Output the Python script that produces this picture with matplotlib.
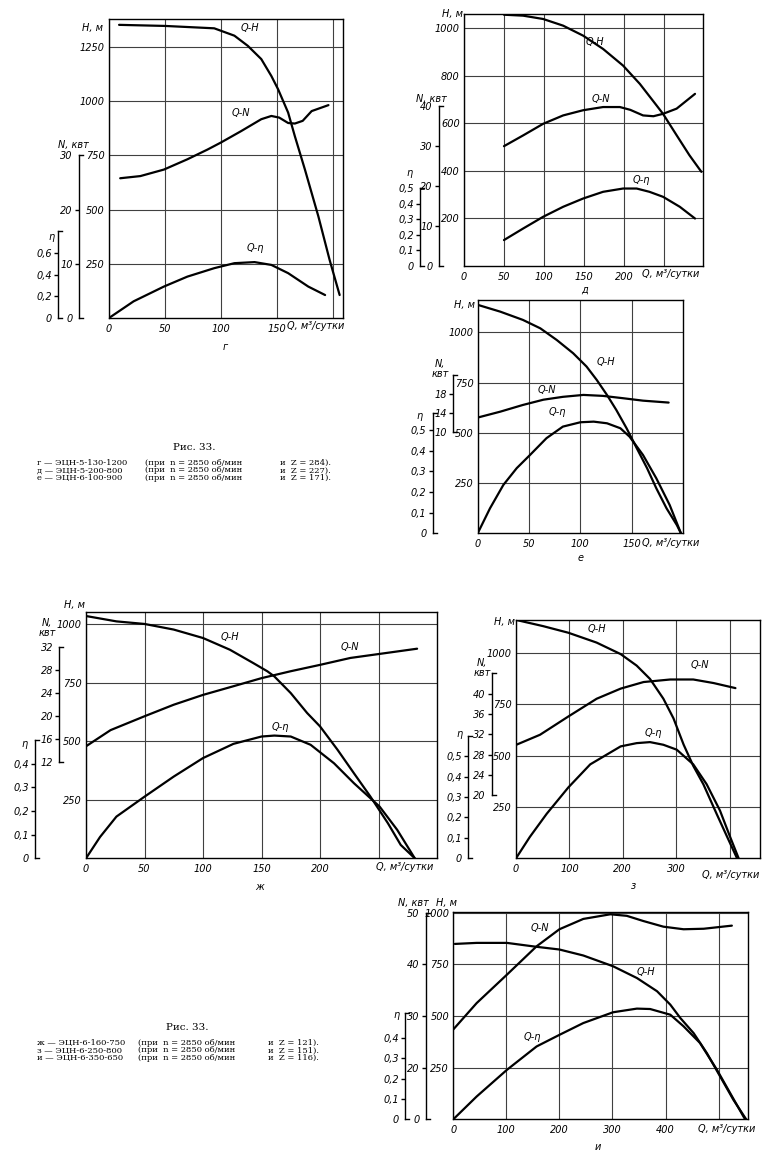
import matplotlib
matplotlib.use("Agg")
import matplotlib.pyplot as plt
from matplotlib.transforms import blended_transform_factory
from matplotlib.ticker import FixedLocator, FixedFormatter

plt.rcParams['font.family'] = ['DejaVu Sans']
plt.rcParams['font.style'] = 'italic'

W, HH = 779, 1163

# ---- г : ЭЦН-5-130-1200
G_QH_Q = [9, 50, 94, 112, 124, 136, 145, 151, 160, 166, 175, 187, 197, 206]
G_QH_H = [1353, 1348, 1337, 1303, 1256, 1195, 1117, 1056, 948, 839, 685, 469, 269, 106]
G_QN_Q = [10, 28, 49, 70, 88, 100, 118, 136, 145, 152, 160, 166, 173, 181, 196]
G_QN_N = [25.8, 26.2, 27.4, 29.3, 31.1, 32.4, 34.5, 36.7, 37.3, 37.0, 36.0, 35.9, 36.4, 38.2, 39.3]
G_QE_Q = [0, 22, 49, 70, 94, 112, 130, 145, 160, 178, 193]
G_QE_E = [0, 0.154, 0.29, 0.382, 0.46, 0.506, 0.516, 0.49, 0.414, 0.29, 0.212]

# ---- д : ЭЦН-5-200-800
D_QH_Q = [50, 74, 99, 124, 149, 174, 199, 220, 241, 249, 266, 282, 297]
D_QH_H = [1057, 1053, 1039, 1011, 969, 913, 843, 766, 675, 640, 550, 466, 396]
D_QN_Q = [50, 74, 99, 124, 149, 174, 195, 208, 224, 237, 249, 266, 289]
D_QN_N = [30.0, 32.7, 35.6, 37.7, 39.0, 39.8, 39.8, 39.1, 37.7, 37.5, 38.1, 39.4, 43.1]
D_QE_Q = [50, 74, 99, 124, 149, 174, 199, 216, 232, 249, 270, 289]
D_QE_E = [0.166, 0.24, 0.315, 0.379, 0.432, 0.475, 0.496, 0.496, 0.475, 0.443, 0.379, 0.304]

# ---- е : ЭЦН-6-100-900
E_QH_Q = [0.6, 22, 44, 61, 77, 93, 106, 116, 126, 135, 145, 155, 165, 174, 184, 194, 198]
E_QH_H = [1136, 1103, 1062, 1020, 962, 896, 830, 763, 688, 614, 523, 423, 324, 224, 124, 41, 0]
E_QN_Q = [0.6, 22, 44, 64, 83, 103, 122, 142, 161, 186]
E_QN_N = [13.1, 14.3, 15.7, 16.8, 17.4, 17.8, 17.6, 17.1, 16.6, 16.2]
E_QE_Q = [0, 12, 25, 38, 51, 67, 83, 100, 113, 126, 139, 148, 161, 174, 187, 198]
E_QE_E = [0, 0.121, 0.234, 0.315, 0.379, 0.46, 0.516, 0.537, 0.54, 0.532, 0.508, 0.467, 0.379, 0.266, 0.137, 0]

# ---- ж : ЭЦН-6-160-750
J_QH_Q = [1, 26, 50, 75, 100, 123, 143, 155, 161, 175, 189, 200, 215, 229, 243, 258, 269, 281]
J_QH_H = [1033, 1011, 1000, 976, 940, 890, 833, 798, 776, 705, 620, 563, 463, 363, 264, 150, 57, 0]
J_QN_Q = [0, 21, 50, 75, 100, 126, 150, 175, 200, 226, 251, 283]
J_QN_N = [14.8, 17.6, 20.0, 22.0, 23.7, 25.2, 26.6, 27.8, 28.9, 30.1, 30.8, 31.7]
J_QE_Q = [0, 12, 26, 50, 75, 100, 126, 150, 161, 175, 192, 212, 229, 251, 266, 281]
J_QE_E = [0, 0.09, 0.176, 0.26, 0.345, 0.423, 0.483, 0.514, 0.518, 0.514, 0.479, 0.401, 0.317, 0.218, 0.12, 0]

# ---- з : ЭЦН-6-250-800
Z_QH_Q = [2.5, 51, 98, 151, 196, 226, 251, 276, 295, 314, 332, 351, 376, 395, 414]
Z_QH_H = [1159, 1130, 1098, 1050, 994, 938, 873, 777, 681, 553, 450, 360, 215, 107, 0]
Z_QN_Q = [0, 45, 98, 151, 196, 239, 289, 332, 370, 411]
Z_QN_N = [29.9, 31.9, 35.5, 39.0, 41.0, 42.3, 42.8, 42.8, 42.1, 41.1]
Z_QE_Q = [0, 26, 57.5, 98, 139, 196, 226, 251, 276, 301, 332, 357, 382, 401, 417]
Z_QE_E = [0, 0.105, 0.218, 0.347, 0.46, 0.548, 0.564, 0.569, 0.556, 0.532, 0.46, 0.363, 0.234, 0.105, 0]

# ---- и : ЭЦН-6-350-650
I_QH_Q = [3, 44, 101, 157, 200, 245, 301, 346, 384, 409, 428, 453, 478, 503, 528, 552]
I_QH_H = [849, 854, 854, 835, 822, 793, 741, 684, 620, 555, 490, 417, 320, 207, 94, 0]
I_QN_Q = [0, 44, 101, 157, 200, 245, 296, 327, 358, 396, 434, 472, 525]
I_QN_N = [27.4, 32.5, 38.0, 43.5, 46.8, 48.8, 49.7, 49.4, 48.4, 47.3, 46.8, 46.9, 47.5]
I_QE_Q = [0, 44, 101, 157, 200, 245, 301, 346, 371, 409, 434, 465, 497, 522, 547, 550]
I_QE_E = [0, 0.112, 0.243, 0.358, 0.415, 0.473, 0.526, 0.544, 0.542, 0.514, 0.457, 0.375, 0.243, 0.128, 0.013, 0]

CAPTION_1 = [
    ("г — ЭЦН-5-130-1200", "(при  n = 2850 об/мин", "и  Z = 284)."),
    ("д — ЭЦН-5-200-800", "(при  n = 2850 об/мин", "и  Z = 227)."),
    ("е — ЭЦН-6-100-900", "(при  n = 2850 об/мин", "и  Z = 171)."),
]
CAPTION_2 = [
    ("ж — ЭЦН-6-160-750", "(при  n = 2850 об/мин", "и  Z = 121)."),
    ("з — ЭЦН-6-250-800", "(при  n = 2850 об/мин", "и  Z = 151)."),
    ("и — ЭЦН-6-350-650", "(при  n = 2850 об/мин", "и  Z = 116)."),
]

ETA = ['0,1', '0,2', '0,3', '0,4', '0,5']

panels = [
    dict(box=(109, 19, 343, 318), qlim=(0, 209), hlim=(0, 1380),
         qticks=[0, 50, 100, 150, 200], qlabels=['0', '50', '100', '150', ''],
         hticks=[250, 500, 750, 1000, 1250],
         n=dict(bar=79, map=(25, 0), lo=0, hi=30, major=[10, 20], minor=[0, 30], mlab=['0', '30']),
         e=dict(bar=58, map=(500, 0), lo=0, hi=0.8, major=[0.2, 0.4, 0.6], labels=['0,2', '0,4', '0,6'],
                minor=[0], mlab=['0']),
         curves=[(G_QH_Q, G_QH_H, 'h'), (G_QN_Q, G_QN_N, 'n'), (G_QE_Q, G_QE_E, 'e')],
         texts=[(93, 28, 'H, м'), (73, 145, 'N, квт'), (52, 237, 'η'),
                (250, 28, 'Q-H'), (241, 113, 'Q-N'), (255, 248, 'Q-η'),
                (316, 326, 'Q, м³/сутки'), (225, 347, 'г')]),
    dict(box=(464, 14, 703, 266), qlim=(0, 299), hlim=(0, 1060),
         qticks=[0, 50, 100, 150, 200, 250], qlabels=['0', '50', '100', '150', '200', ''],
         hticks=[200, 400, 600, 800, 1000],
         n=dict(bar=439, map=(16.8, 0), lo=0, hi=40, major=[10, 20, 30], minor=[0, 40], mlab=['0', '40']),
         e=dict(bar=420, map=(657, 0), lo=0, hi=0.5, major=[0.1, 0.2, 0.3, 0.4], labels=ETA[:4],
                minor=[0, 0.5], mlab=['0', '0,5']),
         curves=[(D_QH_Q, D_QH_H, 'h'), (D_QN_Q, D_QN_N, 'n'), (D_QE_Q, D_QE_E, 'e')],
         texts=[(453, 14, 'H, м'), (431, 99, 'N, квт'), (410, 173, 'η'),
                (595, 42, 'Q-H'), (601, 99, 'Q-N'), (641, 180, 'Q-η'),
                (671, 274, 'Q, м³/сутки'), (585, 290, 'д')]),
    dict(box=(477.7, 300, 683, 533.3), qlim=(0, 200), hlim=(0, 1161),
         qticks=[0, 50, 100, 150], qlabels=['0', '50', '100', '150'],
         hticks=[250, 500, 750, 1000],
         n=dict(bar=453, map=(23.8, 265), lo=10, hi=22, major=[14, 18], minor=[10], mlab=['10']),
         e=dict(bar=432.7, map=(1029, 0), lo=0, hi=0.58, major=[0.1, 0.2, 0.3, 0.4, 0.5], labels=ETA,
                minor=[0], mlab=['0']),
         curves=[(E_QH_Q, E_QH_H, 'h'), (E_QN_Q, E_QN_N, 'n'), (E_QE_Q, E_QE_E, 'e')],
         texts=[(464, 305, 'H, м'), (440, 369, 'N,\nквт'), (420, 416, 'η'),
                (606, 362, 'Q-H'), (547, 390, 'Q-N'), (557, 412, 'Q-η'),
                (671, 543, 'Q, м³/сутки'), (581, 558, 'е')]),
    dict(box=(86, 612, 437, 858.3), qlim=(0, 300), hlim=(0, 1051),
         qticks=[0, 50, 100, 150, 200, 250], qlabels=['0', '50', '100', '150', '200', ''],
         hticks=[250, 500, 750, 1000],
         n=dict(bar=59.3, map=(24.64, 113.3), lo=12, hi=32, major=[16, 20, 24, 28],
                minor=[12, 32], mlab=['12', '32']),
         e=dict(bar=35, map=(1011, 0), lo=0, hi=0.5, major=[0.1, 0.2, 0.3, 0.4], labels=ETA[:4],
                minor=[0], mlab=['0']),
         curves=[(J_QH_Q, J_QH_H, 'h'), (J_QN_Q, J_QN_N, 'n'), (J_QE_Q, J_QE_E, 'e')],
         texts=[(75, 605, 'H, м'), (47, 628, 'N,\nквт'), (25, 744, 'η'),
                (230, 637, 'Q-H'), (350, 647, 'Q-N'), (280, 727, 'Q-η'),
                (405, 867, 'Q, м³/сутки'), (260, 887, 'ж')]),
    dict(box=(516, 620, 760, 858.3), qlim=(0, 457), hlim=(0, 1160),
         qticks=[0, 100, 200, 300, 400], qlabels=['0', '100', '200', '300', ''],
         hticks=[250, 500, 750, 1000],
         n=dict(bar=491.7, map=(24.68, -185.9), lo=20, hi=44, major=[24, 28, 32, 36, 40],
                minor=[20], mlab=['20']),
         e=dict(bar=468.3, map=(994, 0), lo=0, hi=0.6, major=[0.1, 0.2, 0.3, 0.4, 0.5], labels=ETA,
                minor=[0], mlab=['0']),
         curves=[(Z_QH_Q, Z_QH_H, 'h'), (Z_QN_Q, Z_QN_N, 'n'), (Z_QE_Q, Z_QE_E, 'e')],
         texts=[(505, 622, 'H, м'), (482, 668, 'N,\nквт'), (460, 734, 'η'),
                (597, 629, 'Q-H'), (700, 665, 'Q-N'), (653, 733, 'Q-η'),
                (731, 875, 'Q, м³/сутки'), (633, 886, 'з')]),
    dict(box=(453.3, 911.7, 748.3, 1119.3), qlim=(0, 556), hlim=(0, 1005),
         qticks=[0, 100, 200, 300, 400, 500], qlabels=['0', '100', '200', '300', '400', ''],
         hticks=[250, 500, 750, 1000],
         n=dict(bar=426, map=(25, -250), lo=10, hi=50, major=[20, 30, 40], minor=[10, 50], mlab=['0', '50']),
         e=dict(bar=405, map=(985, 0), lo=0, hi=0.52, major=[0.1, 0.2, 0.3, 0.4], labels=ETA[:4],
                minor=[0], mlab=['0']),
         curves=[(I_QH_Q, I_QH_H, 'h'), (I_QN_Q, I_QN_N, 'n'), (I_QE_Q, I_QE_E, 'e')],
         texts=[(446, 903, 'H, м'), (413, 903, 'N, квт'), (397, 1015, 'η'),
                (540, 928, 'Q-N'), (646, 972, 'Q-H'), (532, 1037, 'Q-η'),
                (727, 1129, 'Q, м³/сутки'), (598, 1147, 'и')]),
]

fig = plt.figure(figsize=(W / 100, HH / 100), dpi=100)
fig.patch.set_facecolor('white')


def px_rect(l, t, r, b):
    return [l / W, 1 - b / HH, (r - l) / W, (b - t) / HH]


def ftext(x, y, s, **kw):
    kw.setdefault('ha', 'center')
    kw.setdefault('va', 'center')
    kw.setdefault('fontsize', 7)
    fig.text(x / W, 1 - y / HH, s, **kw)


def side_scale(ax, box, cfg, hlim):
    l, t, r, b = box
    a, off = cfg['map']
    tw = ax.twinx()
    for s in ('top', 'right', 'bottom'):
        tw.spines[s].set_visible(False)
    frac = (cfg['bar'] - l) / (r - l)
    sp = tw.spines['left']
    sp.set_visible(True)
    sp.set_position(('axes', frac))
    sp.set_bounds(cfg['lo'], cfg['hi'])
    sp.set_linewidth(1.0)
    tw.yaxis.tick_left()
    tw.yaxis.set_major_locator(FixedLocator(cfg['major']))
    labels = cfg.get('labels', [str(v) for v in cfg['major']])
    tw.yaxis.set_major_formatter(FixedFormatter(labels))
    tw.yaxis.set_minor_locator(FixedLocator(cfg['minor']))
    tw.yaxis.set_minor_formatter(FixedFormatter(cfg['mlab']))
    tw.tick_params(axis='y', which='major', direction='out', length=3, width=1, pad=1.5, labelsize=7)
    tw.tick_params(axis='y', which='minor', length=0, pad=4.5, labelsize=7)
    cap = 4 / (r - l)
    tr = blended_transform_factory(ax.transAxes, tw.transData)
    for v in (cfg['lo'], cfg['hi']):
        tw.plot([frac, frac + cap], [v, v], transform=tr, color='k', lw=1.0,
                clip_on=False, scalex=False, scaley=False)
    tw.set_ylim((hlim[0] - off) / a, (hlim[1] - off) / a)
    return tw


for p in panels:
    ax = fig.add_axes(px_rect(*p['box']))
    ax.set_xlim(*p['qlim'])
    ax.set_ylim(*p['hlim'])
    ax.set_xticks(p['qticks'])
    ax.set_xticklabels(p['qlabels'])
    ax.set_yticks(p['hticks'])
    ax.set_yticklabels([str(v) for v in p['hticks']])
    ax.tick_params(axis='both', length=0, labelsize=7)
    ax.tick_params(axis='x', pad=4)
    ax.tick_params(axis='y', pad=3)
    ax.grid(True, color='0.25', lw=0.8)
    for s in ax.spines.values():
        s.set_linewidth(1.0)
    axn = side_scale(ax, p['box'], p['n'], p['hlim'])
    axe = side_scale(ax, p['box'], p['e'], p['hlim'])
    target = {'h': ax, 'n': axn, 'e': axe}
    for q, v, k in p['curves']:
        target[k].plot(q, v, color='black', lw=1.6, solid_capstyle='round')
    ax.set_xlim(*p['qlim'])
    for x, y, s in p['texts']:
        ftext(x, y, s, linespacing=0.9)

# подписи к рисункам: каждая колонка одним многострочным текстом
for cap, y0, xs, ytitle, xtitle in [(CAPTION_1, 470.5, (37, 145, 280), 447, 194),
                                    (CAPTION_2, 1050.5, (37, 138, 268), 1027, 187)]:
    ftext(xtitle, ytitle, 'Рис. 33.', family='DejaVu Serif', fontstyle='normal', fontsize=7.5)
    for j, x in enumerate(xs):
        block = '\n'.join(line[j] for line in cap)
        ftext(x, y0, block, ha='left', family='DejaVu Serif', fontstyle='normal',
              fontsize=6.0, linespacing=0.95)

fig.savefig('out.png', dpi=100, facecolor='white')
